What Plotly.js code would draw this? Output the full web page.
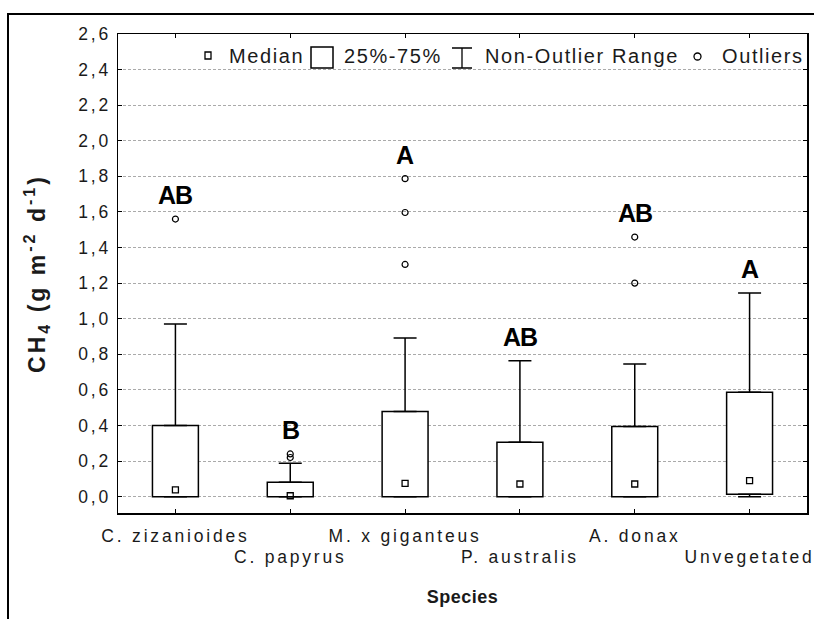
<!DOCTYPE html>
<html>
<head>
<meta charset="utf-8">
<script src="https://cdn.plot.ly/plotly-3.0.1.min.js"></script>
<style>
  html, body { margin: 0; padding: 0; background: #fff; }
  #chart { width: 814px; height: 619px; }
  .xtick text, .x2tick text, .ytick text { letter-spacing: 2.8px; }
  .g-ytitle text { letter-spacing: 3px; }
  .g-x2title text { letter-spacing: 0.5px; }
</style>
</head>
<body>
<div id="chart"></div>
<script>
// CH4 flux per species: box = 25%-75%, whiskers = non-outlier range
const species = ['C. zizanioides', 'C. papyrus', 'M. x giganteus', 'P. australis', 'A. donax', 'Unvegetated'];
const q1 = [0, 0, 0, 0, 0, 0.013];
const medians = [0.038, 0.005, 0.075, 0.071, 0.071, 0.09];
const q3 = [0.40, 0.081, 0.478, 0.306, 0.394, 0.587];
const lowerFence = [0, 0, 0, 0, 0, 0];
const upperFence = [0.970, 0.188, 0.891, 0.763, 0.745, 1.144];
const outliers = [[1.56], [0.24, 0.22], [1.787, 1.597, 1.305], [], [1.459, 1.20], []];
const groupLetters = ['AB', 'B', 'A', 'AB', 'AB', 'A'];
const legendLabels = ['Median', '25%-75%', 'Non-Outlier Range', 'Outliers'];

const FONT = 'Liberation Sans, Arial, sans-serif';
const TXT = '#1a1a1a';

// plot-area geometry in pixels (used for legend glyphs placed in paper space)
const L = 118, T = 34, W = 689, H = 479;
const px = X => (X - L) / W;
const py = Y => (T + H - Y) / H;

// numeric category positions, shared by both x axes
const idx = species.map((s, i) => i);
const evenIdx = idx.filter(i => i % 2 === 0);
const oddIdx = idx.filter(i => i % 2 === 1);

const boxTrace = {
  type: 'bar', x: idx, base: q1,
  y: q3.map((v, i) => v - q1[i]),
  width: 0.4,
  marker: { color: '#fff', line: { color: '#000', width: 1.5 } },
  showlegend: false, hoverinfo: 'skip'
};

const upperWhisker = {
  type: 'scatter', mode: 'markers', x: idx, y: q3,
  marker: { color: 'rgba(0,0,0,0)', size: 1 },
  error_y: {
    type: 'data', symmetric: false,
    array: upperFence.map((v, i) => v - q3[i]),
    arrayminus: idx.map(() => 0),
    color: '#000', thickness: 1.5, width: 11.5
  },
  showlegend: false, hoverinfo: 'skip'
};

// lower whiskers live on the second x axis (same scale; carries the second label row)
const lowerWhisker = {
  type: 'scatter', mode: 'markers', x: idx, y: q1, xaxis: 'x2',
  marker: { color: 'rgba(0,0,0,0)', size: 1 },
  error_y: {
    type: 'data', symmetric: false,
    array: idx.map(() => 0),
    arrayminus: q1.map((v, i) => v - lowerFence[i]),
    color: '#000', thickness: 1.5, width: 11.5
  },
  showlegend: false, hoverinfo: 'skip'
};

const medianTrace = {
  type: 'scatter', mode: 'markers', x: idx, y: medians,
  marker: { symbol: 'square-open', size: 6, color: '#000', line: { width: 1.3, color: '#000' } },
  showlegend: false
};

const outX = [], outY = [];
outliers.forEach((arr, i) => arr.forEach(v => { outX.push(i); outY.push(v); }));
const outlierTrace = {
  type: 'scatter', mode: 'markers', x: outX, y: outY,
  marker: { symbol: 'circle-open', size: 6, color: '#000', line: { width: 1.2, color: '#000' } },
  showlegend: false
};

// significance letters above each group's highest value
const letterAnnotations = idx.map(i => ({
  x: i, y: Math.max(upperFence[i], ...outliers[i]),
  xref: 'x', yref: 'y', showarrow: false,
  yanchor: 'bottom', yshift: 8,
  text: '<span style="letter-spacing:-1px">' + groupLetters[i] + '</span>',
  font: { family: FONT, size: 25, color: '#000', weight: 'bold' }
}));

// legend row: glyphs as shapes, labels as annotations
const legendX = [227, 342, 483, 720];
const legendAnnotations = legendLabels.map((t, i) => ({
  x: px(legendX[i]), y: py(56), xref: 'paper', yref: 'paper',
  xanchor: 'left', yanchor: 'middle', showarrow: false,
  text: '<span style="letter-spacing:1.6px">' + t + '</span>',
  font: { family: FONT, size: 20, color: TXT }
}));

const blk = { color: '#000', width: 1.3 };
const shapes = [
  { type: 'rect', xref: 'paper', yref: 'paper', x0: px(205), x1: px(211), y0: py(59), y1: py(52), line: blk },
  { type: 'rect', xref: 'paper', yref: 'paper', x0: px(311), x1: px(333), y0: py(68), y1: py(47), line: { color: '#000', width: 1.5 } },
  { type: 'path', xref: 'paper', yref: 'paper',
    path: `M ${px(452)},${py(48)} H ${px(472)} M ${px(462)},${py(48)} V ${py(68)} M ${px(452)},${py(68)} H ${px(472)}`,
    line: blk },
  { type: 'circle', xref: 'paper', yref: 'paper', x0: px(694), x1: px(701), y0: py(60), y1: py(53), line: blk },
  // outer figure frame
  { type: 'rect', xref: 'paper', yref: 'paper', x0: px(8), x1: px(900), y0: py(700), y1: py(14),
    line: { color: '#000', width: 2 } }
];

const tickStyle = {
  ticks: 'inside', ticklen: 4, tickwidth: 1, tickcolor: '#000', mirror: 'ticks',
  ticklabeloverflow: 'allow',
  tickfont: { family: FONT, size: 17.5, color: TXT }
};

const layout = {
  width: 814, height: 619,
  margin: { l: L, r: 814 - L - W, t: T, b: 619 - T - H },
  paper_bgcolor: '#fff', plot_bgcolor: '#fff',
  separators: ', ',
  showlegend: false,
  font: { family: FONT, color: TXT },
  xaxis: Object.assign({
    type: 'linear', range: [-0.5, 5.5],
    tickmode: 'array', tickvals: evenIdx, ticktext: evenIdx.map(i => species[i]),
    showline: true, linecolor: '#000', linewidth: 1.5,
    showgrid: false, zeroline: false, ticklabelstandoff: 6
  }, tickStyle),
  xaxis2: Object.assign({
    overlaying: 'x', anchor: 'y', side: 'bottom', matches: 'x',
    type: 'linear', range: [-0.5, 5.5],
    tickmode: 'array', tickvals: oddIdx, ticktext: oddIdx.map(i => species[i]),
    showline: false, showgrid: false, zeroline: false, ticklabelstandoff: 31,
    title: { text: 'Species', font: { family: FONT, size: 18, color: TXT, weight: 'bold' }, standoff: 24 }
  }, tickStyle),
  yaxis: Object.assign({
    range: [-0.092, 2.6001], tick0: 0, dtick: 0.2, tickformat: '.1f',
    showline: true, linecolor: '#000', linewidth: 1.5,
    showgrid: true, gridcolor: '#aaa', gridwidth: 1, griddash: '3px,2px',
    zeroline: false,
    ticklabelstandoff: 2,
    title: { text: 'CH<sub>4</sub> (g m<sup>-2</sup> d<sup>-1</sup>)', font: { family: FONT, size: 23, color: TXT, weight: 'bold' }, standoff: 26 }
  }, tickStyle),
  annotations: letterAnnotations.concat(legendAnnotations),
  shapes: shapes
};

Plotly.newPlot('chart', [boxTrace, lowerWhisker, upperWhisker, medianTrace, outlierTrace], layout,
  { staticPlot: true, displayModeBar: false });
</script>
</body>
</html>
